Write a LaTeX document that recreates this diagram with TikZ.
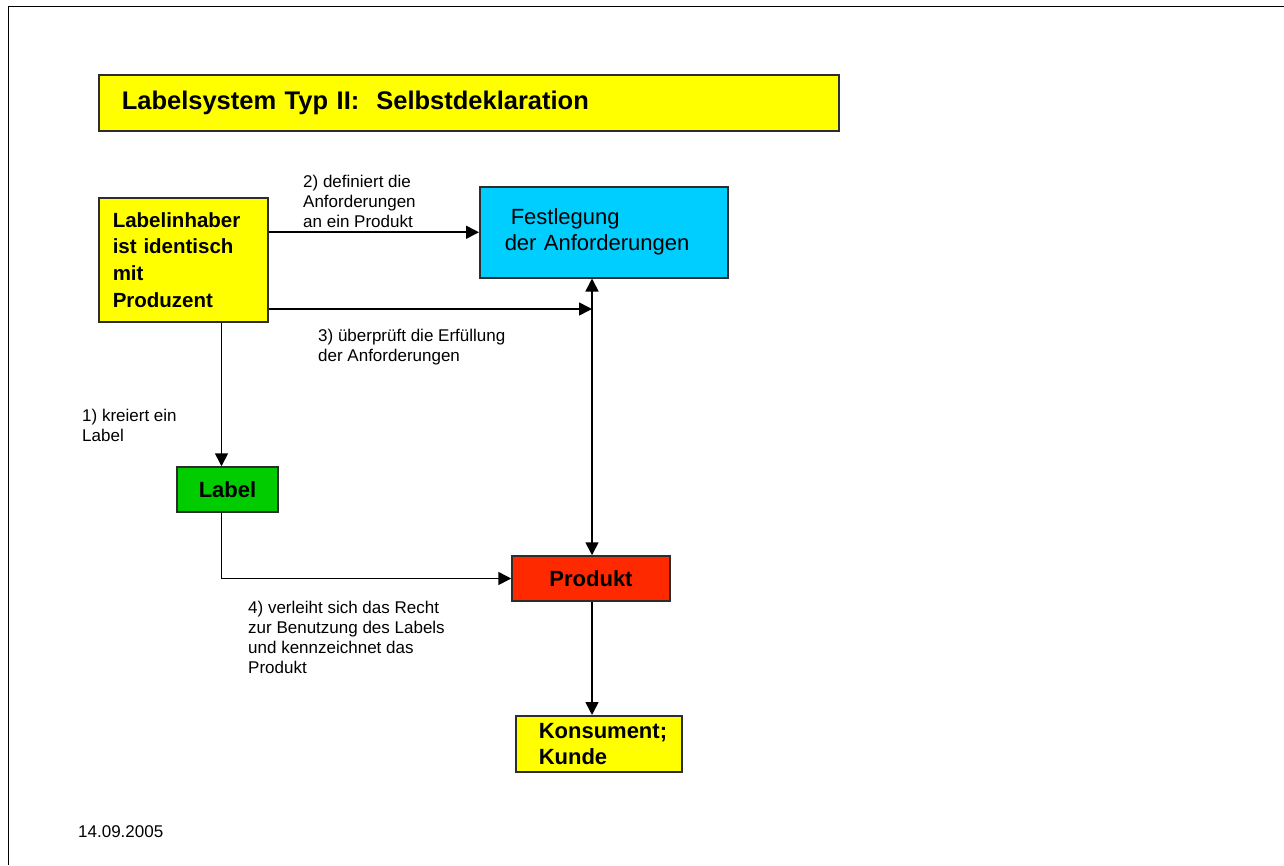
\documentclass[tikz,border=0pt]{standalone}
\usepackage{fontspec}
\setmainfont{Liberation Sans}
\usetikzlibrary{arrows.meta}
\definecolor{boxyellow}{RGB}{255,255,0}
\definecolor{reqcyan}{RGB}{0,206,255}
\definecolor{labelgreen}{RGB}{0,204,0}
\definecolor{prodred}{RGB}{255,41,0}
\definecolor{edgegray}{RGB}{45,45,45}
\tikzset{
	box/.style={draw=edgegray, line width=1.5pt, inner ysep=0pt},
	bigbold/.style={font=\bfseries\fontsize{22}{26}\selectfont},
	note/.style={anchor=west, align=left, inner sep=0pt, font=\fontsize{17}{20}\selectfont},
	flow/.style={line width=1.6pt, -{Triangle[length=13pt,width=13pt]}},
	twoway/.style={line width=1.6pt, {Triangle[length=13pt,width=13pt]}-{Triangle[length=13pt,width=13pt]}},
}

\begin{document}
\begin{tikzpicture}[x=1pt,y=-1pt]
				\path[use as bounding box] (0,0) rectangle (1284,865);
				\draw[line width=1.6pt] (8.5,865) -- (8.5,6.5) -- (1284,6.5);
				
				\node[box, fill=boxyellow, anchor=north west, minimum height=56pt, text width=694pt, inner xsep=23pt, align=left, font=\bfseries\fontsize{25.5}{30}\selectfont] (title) at (98,74) {Labelsystem Typ II:\ \ Selbstdeklaration};
				
				\node[box, fill=boxyellow, anchor=north west, minimum height=124pt, text width=141pt, inner xsep=14pt, align=left, font=\bfseries\fontsize{20.5}{26.7}\selectfont] (boss) at (98,197) {Labelinhaber\\ist identisch\\mit\\Produzent};
				\node[box, fill=reqcyan, anchor=north west, minimum height=91pt, text width=198pt, inner xsep=25pt, align=left, font=\fontsize{22}{26}\selectfont] (spec) at (479,186) {\hspace*{6pt}Festlegung\\der Anforderungen};
				\node[box, fill=labelgreen, bigbold, minimum width=101pt, minimum height=45pt] (label) at (227.5,489.5) {Label};
				\node[box, fill=prodred, bigbold, minimum width=158pt, minimum height=45pt] (prod) at (591,578.5) {Produkt};
				\node[box, fill=boxyellow, bigbold, anchor=north west, minimum height=56pt, text width=120pt, inner xsep=23pt, align=left] (cons) at (515,715) {Konsument;\\Kunde};
				
				\coordinate (chk) at (592,309);
				\coordinate (drop) at (221.5,321);
				
				\draw[flow] (boss.east |- spec.west) -- (spec.west);
				\draw[flow] (boss.east |- chk) -- (chk);
				\draw[twoway] (prod.north -| chk) -- (spec.south -| chk);
				\draw[flow] (boss.south -| drop) -- (label.north -| drop);
				\draw[flow] (label.south -| drop) |- (prod.west);
				\draw[flow] (prod.south -| chk) -- (cons.north -| chk);
				
				\node[note] (n2) at (303,201) {2) definiert die\\Anforderungen\\an ein Produkt};
				\node[note] (n3) at (318,347) {3) überprüft die Erfüllung\\der Anforderungen};
				\node[note] (n1) at (82,425.5) {1) kreiert ein\\Label};
				\node[note] (n4) at (248,637) {4) verleiht sich das Recht\\zur Benutzung des Labels\\und kennzeichnet das\\Produkt};
				\node[note] (date) at (78,832) {14.09.2005};
\end{tikzpicture}
\end{document}
